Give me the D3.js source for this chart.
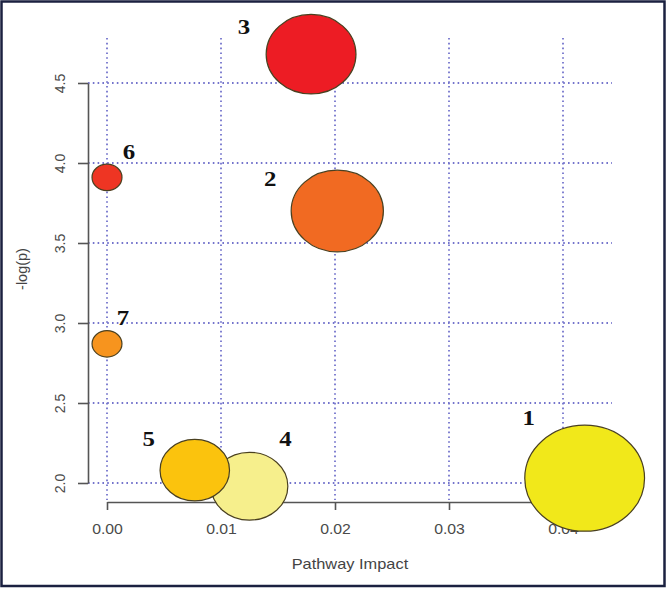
<!DOCTYPE html>
<html>
<head>
<meta charset="utf-8">
<script src="https://cdn.jsdelivr.net/npm/d3@7"></script>
<style>
  body { margin: 0; background: #fff; }
  .grid line { stroke: #7474cc; stroke-width: 1.8; stroke-dasharray: 1.6,3.2; }
  .axis path, .axis line { stroke: #555; stroke-width: 1.6; }
  .axis text { fill: #4a4a4a; font-family: "Liberation Sans", Arial, sans-serif; font-size: 14px; }
  .title { fill: #444; font-family: "Liberation Sans", Arial, sans-serif; font-size: 14.5px; }
  .wide { transform-box: fill-box; transform-origin: center; transform: scaleX(1.13); }
  .bubble { stroke: #4a4020; stroke-width: 1.2; }
  .num { font-family: "Liberation Serif", "Times New Roman", serif; font-weight: bold; font-size: 22px; fill: #111; }
</style>
</head>
<body>
<svg width="667" height="591"></svg>
<script>
// pathways, numbered as in the figure
var ids = ["1", "2", "3", "4", "5", "6", "7"];
var impact = [0.0419, 0.0202, 0.0179, 0.0125, 0.0077, 0.0, 0.0];
var logp = [2.03, 3.70, 4.68, 1.98, 2.08, 3.91, 2.87];
var bubbleSize = [1.0, 0.77, 0.75, 0.64, 0.58, 0.25, 0.25];
var fills = ["#f1e81a", "#f16a22", "#ed1c24", "#f6ef8c", "#fbc30d", "#ee3523", "#f7941e"];
// label offsets from bubble centre (px)
var labelDx = [-56, -67, -67, 36, -46, 22, 16];
var labelDy = [-53, -25, -20, -40, -24, -18, -19];

var xTicks = [0, 0.01, 0.02, 0.03, 0.04];
var yTicks = [2.0, 2.5, 3.0, 3.5, 4.0, 4.5];

var svg = d3.select("svg");

// outer frame
svg.append("rect")
  .attr("x", 1.5).attr("y", 1.5)
  .attr("width", 663).attr("height", 584.5)
  .attr("fill", "none").attr("stroke", "#1b2140").attr("stroke-width", 2.5);

var x = d3.scaleLinear().domain([0, 0.04]).range([107, 563]);
var y = d3.scaleLinear().domain([2.0, 4.5]).range([483, 83]);
var r = d3.scaleLinear().domain([0, 1]).range([0, 53]);

// plot region (grid extent)
var px0 = 88, px1 = 612, py0 = 38, py1 = 500;

var grid = svg.append("g").attr("class", "grid");
grid.selectAll(".v").data(xTicks).enter().append("line")
  .attr("x1", d => x(d)).attr("x2", d => x(d))
  .attr("y1", py0).attr("y2", py1);
grid.selectAll(".h").data(yTicks).enter().append("line")
  .attr("x1", px0).attr("x2", px1)
  .attr("y1", d => y(d)).attr("y2", d => y(d));

// axes
var xAxis = svg.append("g").attr("class", "axis")
  .attr("transform", "translate(0,502)")
  .call(d3.axisBottom(x).tickValues(xTicks).tickFormat(d3.format(".2f")).tickSize(8).tickSizeOuter(0));
xAxis.selectAll("text").attr("y", 22).attr("class", "wide");

var yAxis = svg.append("g").attr("class", "axis")
  .attr("transform", "translate(88,0)")
  .call(d3.axisLeft(y).tickValues(yTicks).tickFormat(d3.format(".1f")).tickSize(10).tickSizeOuter(0));
yAxis.selectAll("text")
  .attr("x", null).attr("dy", "0.35em")
  .attr("text-anchor", "middle")
  .attr("transform", "translate(-28,0) rotate(-90)");

svg.append("text").attr("class", "title wide")
  .attr("x", (px0 + px1) / 2).attr("y", 569).attr("text-anchor", "middle")
  .text("Pathway Impact");
svg.append("text").attr("class", "title")
  .attr("text-anchor", "middle")
  .attr("transform", "translate(27," + (py0 + py1) / 2 + ") rotate(-90)")
  .text("-log(p)");

// bubbles
var idx = d3.range(ids.length);
svg.selectAll(".bubble").data(idx).enter().append("ellipse")
  .attr("class", "bubble")
  .attr("cx", i => x(impact[i]))
  .attr("cy", i => y(logp[i]))
  .attr("rx", i => r(bubbleSize[i]) * 1.13)
  .attr("ry", i => r(bubbleSize[i]))
  .attr("fill", i => fills[i]);

svg.selectAll(".num").data(idx).enter().append("text")
  .attr("class", "num wide")
  .attr("text-anchor", "middle")
  .attr("x", i => x(impact[i]) + labelDx[i])
  .attr("y", i => y(logp[i]) + labelDy[i])
  .text(i => ids[i]);
</script>
</body>
</html>
